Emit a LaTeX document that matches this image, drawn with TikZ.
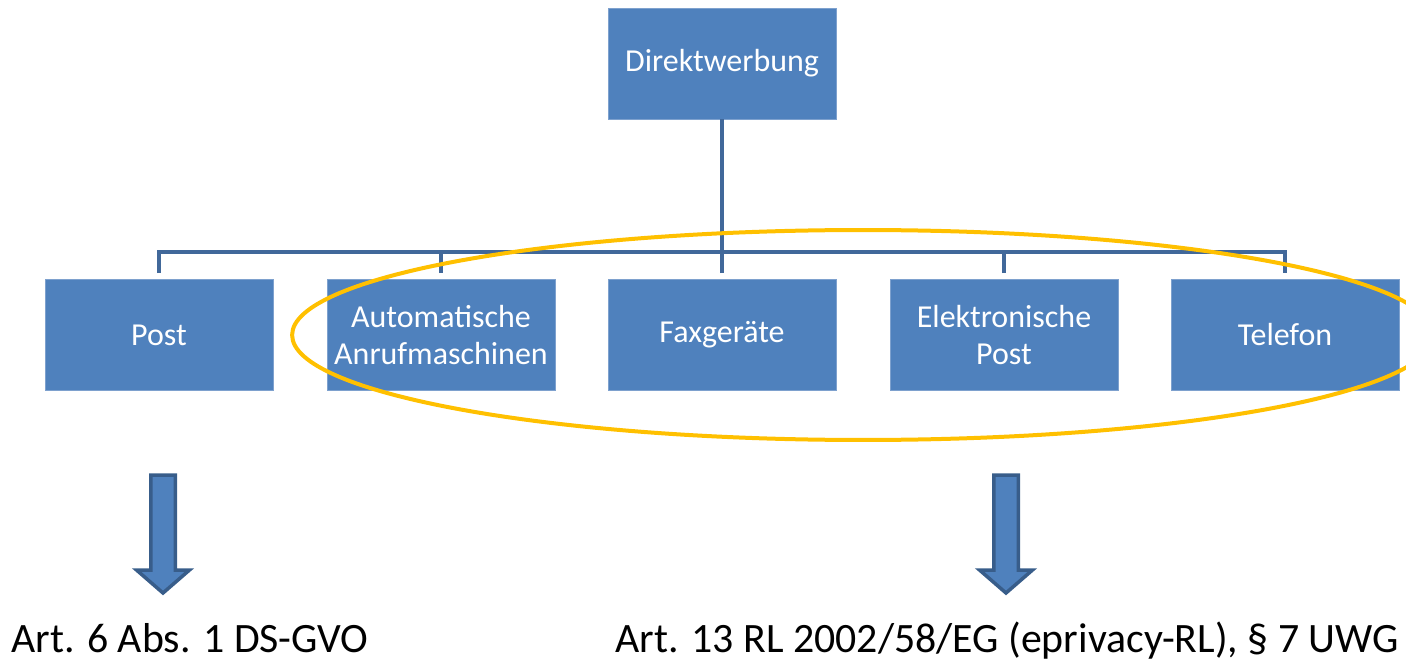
\documentclass[tikz,border=0pt]{standalone}
\usepackage{fontspec}
\setmainfont{Carlito}
\usetikzlibrary{positioning,calc}
\definecolor{boxblue}{HTML}{4F81BD}
\definecolor{boxedge}{HTML}{7EA1CE}
\definecolor{linkblue}{HTML}{41689A}
\definecolor{arrowedge}{HTML}{385D8A}
\definecolor{ringgold}{HTML}{FFC000}
\begin{document}
\begin{tikzpicture}[x=0.02cm,y=-0.02cm,
  box/.style={draw=boxedge,line width=0.4pt,fill=boxblue,text=white,minimum width=4.56cm,minimum height=2.22cm,inner sep=1pt,align=center,font=\fontsize{18.2}{21}\selectfont},
  link/.style={draw=linkblue,line width=0.08cm},
  blockarrow/.style={draw=arrowedge,fill=boxblue,line width=0.07cm,miter limit=10},
  ring/.style={draw=ringgold,line width=0.08cm},
  ref/.style={inner sep=0pt,font=\fontsize{23.8}{28}\selectfont}]
\clip (0,0) rectangle (1406,662);
\node[box](top) at(722,63.5){Direktwerbung};
\node[box](post) at(159,335){Post};
\node[box](auto) at(441,335){Automatische\\Anrufmaschinen};
\node[box](fax) at(722,335){Faxgeräte};
\node[box](elek) at(1004,335){Elektronische\\Post};
\node[box](tel) at(1285,335){Telefon};
\coordinate(bar) at(722,252);
\draw[link](top.south)--(bar);
\draw[link]($(post.north)+(0,-6)$)--(post.north |- bar)--(tel.north |- bar)--($(tel.north)+(0,-6)$);
\foreach \n in {auto,fax,elek}\draw[link]($(\n.north)+(0,-6)$)--(\n.north |- bar);
\draw[ring](863,335) ellipse[x radius=11.42cm,y radius=2.1cm];
\foreach \x in {163,1006}
  \draw[blockarrow](\x-12.25,475)--(\x+12.25,475)--(\x+12.25,570)--(\x+26.5,570)--(\x,593)--(\x-26.5,570)--(\x-12.25,570)--cycle;
\node[ref,anchor=base west](dsgvo) at(11,652){Art. 6 Abs. 1 DS-GVO};
\node[ref,anchor=base east](uwg) at(1399,652){Art. 13 RL 2002/58/EG (eprivacy-RL), § 7 UWG};
\end{tikzpicture}
\end{document}
